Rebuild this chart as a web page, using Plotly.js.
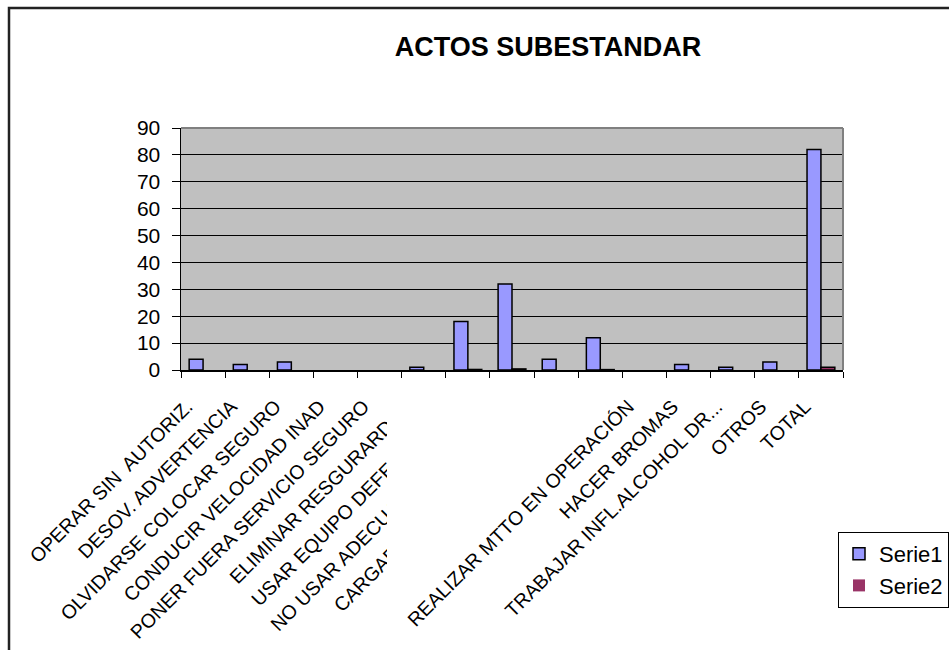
<!DOCTYPE html>
<html><head><meta charset="utf-8">
<script src="https://cdn.plot.ly/plotly-3.0.1.min.js"></script>
<style>body{margin:0;background:#fff}#chart{width:949px;height:650px}</style>
</head><body><div id="chart"></div>
<script>
const categories = ["OPERAR SIN  AUTORIZ.", "DESOV. ADVERTENCIA", "OLVIDARSE COLOCAR SEGURO", "CONDUCIR VELOCIDAD INAD", "PONER FUERA SERVICIO SEGURO", "ELIMINAR RESGURARDOS", "USAR EQUIPO DEFECTUOSO.", "NO USAR ADECUADAMENTE EPP.", "CARGAR INCORRECTAMENTE.", "OTRO ACTO", "REALIZAR MTTO EN OPERACIÓN", "HACER BROMAS", "TRABAJAR INFL.ALCOHOL DR...", "OTROS", "TOTAL"];
const tickLabels = ["OPERAR SIN  AUTORIZ.", "DESOV. ADVERTENCIA", "OLVIDARSE COLOCAR SEGURO", "CONDUCIR VELOCIDAD INAD", "PONER FUERA SERVICIO SEGURO", "ELIMINAR RESGURARDOS", "USAR EQUIPO DEFECTUOSO.", "NO USAR ADECUADAMENTE EPP.", "CARGAR INCORRECTAMENTE.", "", "REALIZAR MTTO EN OPERACIÓN", "HACER BROMAS", "TRABAJAR INFL.ALCOHOL DR...", "OTROS", "TOTAL"];
const serie1 = [4, 2, 3, 0, 0, 1, 18, 32, 4, 12, 0, 2, 1, 3, 82];
const serie2 = [0, 0, 0, 0, 0, 0, 0.2, 0.4, 0, 0.15, 0, 0, 0, 0, 1];
const seriesNames = ["Serie1", "Serie2"];
const seriesColors = ["#9999FF", "#993366"];
const yTicks = [0, 10, 20, 30, 40, 50, 60, 70, 80, 90];

// pixel -> paper helpers (plot area 181..843 x 128..370)
const L = 181, R = 843, T = 128, B = 370;
const px = x => (x - L) / (R - L);
const py = y => (B - y) / (B - T);
const FONT = 'Arial, Liberation Sans, sans-serif';

const traces = [serie1, serie2].map((vals, i) => ({
  type: 'bar', x: categories, y: vals, name: seriesNames[i],
  legendgroup: 'g' + i,
  marker: {color: seriesColors[i], line: {color: '#000', width: vals.map(v => v > 0 ? 1.5 : 0)}},
  hoverinfo: 'x+y'
}));

const layout = {
  width: 949, height: 650, autosize: false,
  margin: {l: L, r: 949 - R, t: T, b: 650 - B, pad: 0, autoexpand: false},
  paper_bgcolor: '#fff', plot_bgcolor: '#C0C0C0',
  font: {family: FONT, color: '#000'},
  title: {text: 'ACTOS SUBESTANDAR', font: {size: 27, family: FONT, color: '#000', weight: 'bold'},
          xref: 'container', yref: 'container', x: 548 / 949, y: 1 - 47 / 650, xanchor: 'center', yanchor: 'middle'},
  barmode: 'group', bargap: 0.37, bargroupgap: 0,
  xaxis: {type: 'category', tickvals: categories, ticktext: tickLabels, tickangle: -45,
          tickson: 'boundaries', ticks: 'outside', ticklen: 6, tickcolor: '#000', tickwidth: 1,
          ticklabelstandoff: 16, ticklabelshift: -16,
          showline: true, linecolor: '#000', linewidth: 1.5, showgrid: false,
          tickfont: {size: 19.5, family: FONT, color: '#000'}, automargin: false},
  yaxis: {range: [0, 90], tickvals: yTicks, ticks: 'outside', ticklen: 8, tickcolor: '#000', tickwidth: 1,
          ticklabelstandoff: 7,
          showline: true, linecolor: '#000', linewidth: 1.5, gridcolor: '#000', gridwidth: 1, zeroline: false,
          tickfont: {size: 21, family: FONT, color: '#000'}, automargin: false},
  showlegend: true,
  legend: {x: px(838), y: py(532), xanchor: 'left', yanchor: 'top', bgcolor: '#fff',
           bordercolor: '#000', borderwidth: 1, tracegroupgap: 10, traceorder: 'normal',
           font: {size: 22, family: FONT, color: '#000'}},
  shapes: [
    {type: 'line', xref: 'paper', yref: 'paper', x0: 0, x1: 1, y0: 1, y1: 1, line: {color: '#808080', width: 2}, layer: 'above'},
    {type: 'line', xref: 'paper', yref: 'paper', x0: 1, x1: 1, y0: 0, y1: 1, line: {color: '#808080', width: 2}, layer: 'above'},
    {type: 'path', xref: 'paper', yref: 'paper', layer: 'above',
     path: `M ${px(387)},${py(379)} L ${px(608)},${py(379)} L ${px(387)},${py(600)} Z`,
     fillcolor: '#fff', line: {width: 0}},
    {type: 'path', xref: 'paper', yref: 'paper', layer: 'above',
     path: `M ${px(9)},${py(652)} L ${px(9)},${py(8)} L ${px(952)},${py(8)}`,
     line: {color: '#222', width: 2.5}}
  ]
};

Plotly.newPlot('chart', traces, layout, {displayModeBar: false, staticPlot: true});
</script>
</body></html>
